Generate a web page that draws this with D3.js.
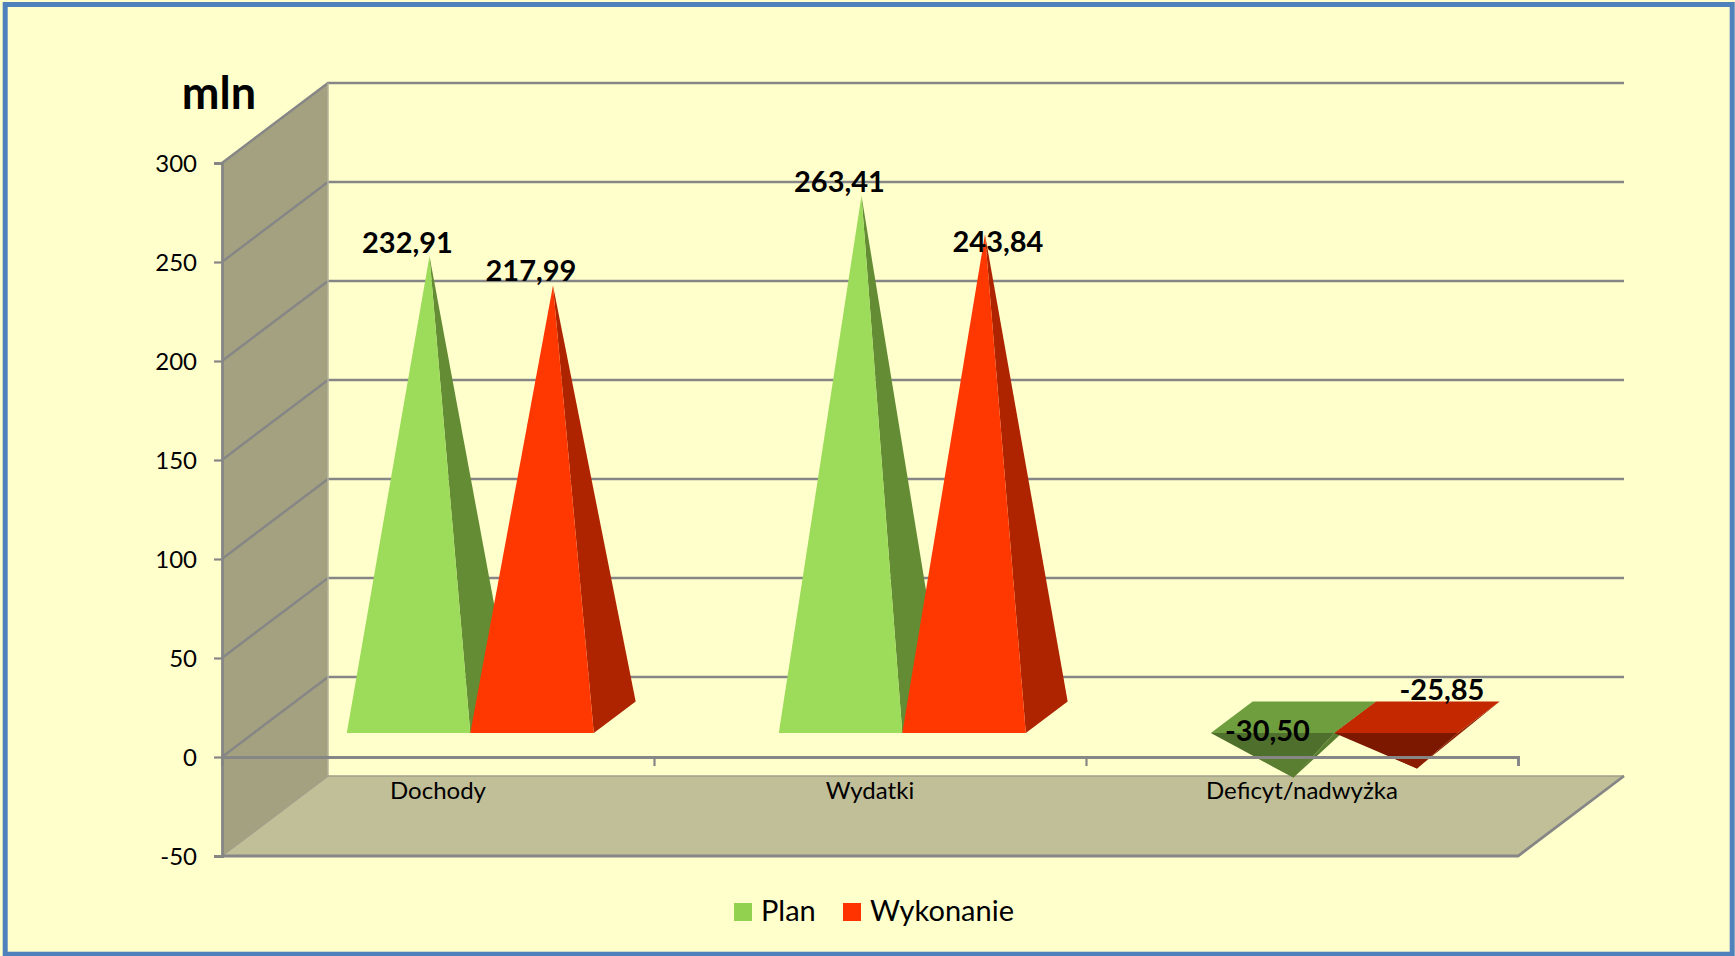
<!DOCTYPE html>
<html><head><meta charset="utf-8">
<script src="https://cdnjs.cloudflare.com/ajax/libs/d3/7.8.5/d3.min.js"></script>
<style>html,body{margin:0;padding:0;background:#ffffcc;overflow:hidden}svg{display:block}text{font-family:Lato,sans-serif;fill:#000}</style>
</head><body><svg id="c" width="1735" height="956"></svg>
<script>
const categories = ["Dochody", "Wydatki", "Deficyt/nadwyżka"];
const seriesNames = ["Plan", "Wykonanie"];
const planValues = [232.91, 263.41, -30.50];
const wykonanieValues = [217.99, 243.84, -25.85];
const yTicks = [-50, 0, 50, 100, 150, 200, 250, 300];
const unitLabel = "mln";

const W = 1735, H = 956;
const L = 222, R = 1518, T = 163, B = 856, DX = 106, DY = 80;
const d0 = 0.3, d1 = 0.695, dC = (d0 + d1) / 2;
const GRID = "#868686";
const pal = {
  Plan: {front:"#9cdc5a", side:"#648c35", top:"#6f9e3e", under:"#4f702c", low:"#5a7f30", key:"#92d050"},
  Wykonanie: {front:"#ff3700", side:"#ae2300", top:"#c42800", under:"#7c1800", low:"#8c1c00", key:"#ff3300"}
};
// label shift from the apex of each pyramid [dx, baseline dy]
const labelShift = [[[-22,-3],[-22,-5]], [[-22,-4],[13,18]], [[-26,-37],[25,-68]]];

const svg = d3.select("#c");
svg.append("rect").attr("x",5.2).attr("y",4.5).attr("width",1727).attr("height",949.7)
  .attr("fill","#ffffcc").attr("stroke","#4f81bd").attr("stroke-width",5);

const y = d3.scaleLinear().domain([-50,300]).range([B,T]);
const x = d3.scaleBand().domain(categories).range([L,R]);
const xEdge = d3.scaleLinear().domain([0,categories.length]).range([L,R]);
const xs = d3.scaleBand().domain(seriesNames).range([93,340]);
const P = (px,v,d) => [px + d*DX, y(v) - d*DY];
const line = d3.line();

// walls
svg.append("path").attr("d", line([P(L,300,0),P(L,300,1),P(L,-50,1),P(L,-50,0)])+"Z").attr("fill","#a3a17f");
svg.append("path").attr("d", line([P(L,-50,0),P(L,-50,1),P(R,-50,1),P(R,-50,0)])+"Z").attr("fill","#c0bf98");

// gridlines
const grid = svg.append("g").attr("fill","none").attr("stroke",GRID).attr("stroke-width",2.4);
yTicks.filter(v=>v>-50).forEach(v=>{
  grid.append("path").attr("d", line([P(L,v,0),P(L,v,1),P(R,v,1)]));
});
svg.append("path").attr("d", line([P(L,300,1),P(L,-50,1)])).attr("stroke","#b5b49c").attr("stroke-width",1.5).attr("fill","none");
svg.append("path").attr("d", line([P(L,-50,0),P(L,-50,1),P(R,-50,1)])).attr("stroke","#a09f88").attr("stroke-width",1.5).attr("fill","none");
svg.append("path").attr("d", line([P(R,-50,1),P(R,-50,0),P(L,-50,0)])).attr("stroke",GRID).attr("stroke-width",2.8).attr("fill","none");

// pyramids
const defs = svg.append("defs");
defs.append("clipPath").attr("id","belowZero").append("rect")
  .attr("x",0).attr("width",W).attr("y",y(0)).attr("height",H-y(0));
const data = seriesNames.map((s,i)=>({s, vals:[planValues,wykonanieValues][i]}));
const gP = svg.append("g");
data.forEach(({s,vals})=>{
  const c = pal[s];
  vals.forEach((v,k)=>{
    const x0 = x(categories[k]) + xs(s), x1 = x0 + xs.bandwidth(), xm = (x0+x1)/2;
    const FL=P(x0,0,d0), FR=P(x1,0,d0), BR=P(x1,0,d1), BL=P(x0,0,d1), A=P(xm,v,dC);
    const g = gP.append("g");
    const poly=(pts,f)=>g.append("path").attr("d",line(pts)+"Z").attr("fill",f);
    if (v>=0) {
      poly([FR,BR,A],c.side);
      poly([FL,FR,A],c.front);
    } else {
      poly([FR,BR,A],c.low);
      poly([BL,BR,FR,FL],c.top);
      poly([FL,FR,A],c.under);
      poly([FL,FR,A],c.low).attr("clip-path","url(#belowZero)");
    }
  });
});

// axes
const yAxis = svg.append("g").attr("transform",`translate(${L},0)`)
  .call(d3.axisLeft(y).tickValues(yTicks).tickSize(8).tickPadding(17).tickFormat(v=>String(v)));
const xAxis = svg.append("g").attr("transform",`translate(0,${y(0)})`)
  .call(d3.axisBottom(xEdge).tickValues(d3.range(categories.length+1)).tickSize(9).tickFormat(""));
[yAxis,xAxis].forEach(a=>{
  a.selectAll("path.domain").attr("stroke",GRID).attr("stroke-width",2.8);
  a.selectAll(".tick line").attr("stroke",GRID).attr("stroke-width",2.2);
});
yAxis.selectAll("text").attr("font-family","Lato").attr("font-size",24).attr("fill","#000").attr("dy","0.36em");

// category labels
svg.append("g").selectAll("text").data(categories).join("text")
  .attr("x",d=>x(d)+x.bandwidth()/2).attr("y",799).attr("text-anchor","middle")
  .attr("font-size",24).text(d=>d);

// value labels
const fmt = v => v.toFixed(2).replace(".",",");
data.forEach(({s,vals},si)=>{
  vals.forEach((v,k)=>{
    const xm = x(categories[k]) + xs(s) + xs.bandwidth()/2;
    const A = P(xm,v,dC), sh = labelShift[k][si];
    svg.append("text").attr("x",A[0]+sh[0]).attr("y",A[1]+sh[1]).attr("text-anchor","middle")
      .attr("font-size",29).attr("font-weight",700).text(fmt(v));
  });
});

// unit
svg.append("text").attr("x",219).attr("y",109).attr("text-anchor","middle")
  .attr("font-size",45).attr("font-weight",700).text(unitLabel);

// legend
const legX = [734,843];
seriesNames.forEach((s,i)=>{
  svg.append("rect").attr("x",legX[i]).attr("y",903).attr("width",18).attr("height",18).attr("fill",pal[s].key);
  svg.append("text").attr("x",legX[i]+27).attr("y",921).attr("font-size",29).text(s);
});
</script></body></html>
